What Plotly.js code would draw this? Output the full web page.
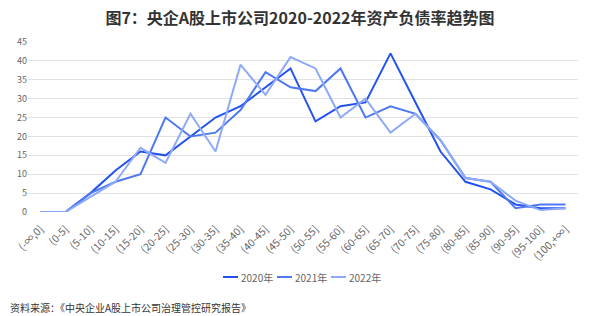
<!DOCTYPE html>
<html>
<head>
<meta charset="utf-8">
<script src="https://cdn.plot.ly/plotly-3.0.1.min.js"></script>
<style>html,body{margin:0;padding:0;background:#fff;}#chart{width:600px;height:316px;}</style>
</head>
<body>
<div id="chart"></div>
<script>
const categories = ['(-∞,0]','(0-5]','(5-10]','(10-15]','(15-20]','(20-25]','(25-30]','(30-35]','(35-40]','(40-45]','(45-50]','(50-55]','(55-60]','(60-65]','(65-70]','(70-75]','(75-80]','(80-85]','(85-90]','(90-95]','(95-100]','(100,+∞]'];
const seriesNames = ['2020年','2021年','2022年'];
const values2020 = [0,0,5,11,16,15,20,25,28,33,38,24,28,29,42,29,16,8,6,2,1,1];
const values2021 = [0,0,5,8,10,25,20,21,27,37,33,32,38,25,28,26,19,9,8,1,2,2];
const values2022 = [0,0,4,8,17,13,26,16,39,31,41,38,25,30,21,26,19,9,8,3,0.5,1];
const yTicks = [0,5,10,15,20,25,30,35,40,45];

const colors = ['#2352f2','#4f78f4','#8ea9f7'];
const allValues = [values2020, values2021, values2022];
const font = '"Noto Sans CJK SC", "Noto Sans", sans-serif';

const traces = allValues.map((v,i) => ({
  type: 'scatter', mode: 'lines', x: categories, y: v, name: seriesNames[i],
  line: {color: colors[i], width: 2}
}));

// compact legend placed below the plot (line sample + label), in pixels converted to paper coords
const plotL = 28, plotW = 550, plotT = 42, plotH = 170;
const px = x => (x - plotL) / plotW;
const py = y => (plotT + plotH - y) / plotH;
const legendY = 277, legendStart = 223, legendStep = 54, symbolLen = 15;
const shapes = [], annotations = [];
seriesNames.forEach((n,i) => {
  const x0 = legendStart + i * legendStep;
  shapes.push({type: 'line', xref: 'paper', yref: 'paper', x0: px(x0), x1: px(x0 + symbolLen), y0: py(legendY), y1: py(legendY), line: {color: colors[i], width: 2}});
  annotations.push({text: n, xref: 'paper', yref: 'paper', x: px(x0 + symbolLen + 1), y: py(legendY), xanchor: 'left', yanchor: 'middle', showarrow: false, font: {family: font, size: 10, color: '#666'}});
});
annotations.push({
  text: '资料来源：《中央企业A股上市公司治理管控研究报告》', xref: 'paper', yref: 'paper', x: px(8), y: py(307), xanchor: 'left', yanchor: 'middle', showarrow: false, font: {family: font, size: 10, color: '#333'}
});

const layout = {
  width: 600, height: 316,
  margin: {l: 28, r: 22, t: 42, b: 104},
  paper_bgcolor: '#fff', plot_bgcolor: '#fff',
  font: {family: font, color: '#666', size: 9},
  title: {text: '图7：央企A股上市公司2020-2022年资产负债率趋势图', font: {family: font, size: 16, color: '#333', weight: 'bold'}, x: 0.5, xanchor: 'center', y: 0.943, yref: 'container', yanchor: 'middle'},
  xaxis: {type: 'category', range: [-0.5, 21.5], tickangle: -45, tickfont: {size: 10.5, color: '#666'}, ticklabelstandoff: 8, showgrid: false, zeroline: false, showline: false, ticks: '', fixedrange: true},
  yaxis: {range: [0, 45], tickvals: yTicks, ticktext: yTicks.map(String), tickfont: {size: 9, color: '#666'}, gridcolor: '#e2e2e2', gridwidth: 1, zeroline: false, showline: false, ticks: '', fixedrange: true},
  showlegend: false,
  shapes: shapes,
  annotations: annotations
};

Plotly.newPlot('chart', traces, layout, {displayModeBar: false, staticPlot: true});
</script>
</body>
</html>
